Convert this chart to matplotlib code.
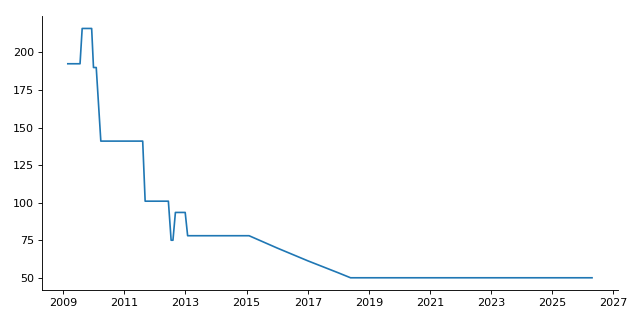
import numpy as np
import matplotlib
matplotlib.use('Agg')
import matplotlib.pyplot as plt

# decimal years and values
years = [2009.15, 2009.55, 2009.62, 2009.93, 2009.99, 2010.08, 2010.23,
         2011.60, 2011.68, 2012.44, 2012.53, 2012.59, 2012.67, 2012.99,
         2013.07, 2015.08, 2016.0, 2017.0, 2018.0, 2018.40, 2026.30]
values = [192.5, 192.5, 216, 216, 190, 190, 141,
          141, 101, 101, 75, 75, 93.5, 93.5,
          78, 78, 69.8, 61.3, 53.3, 50, 50]

xticks = list(range(2009, 2028, 2))


def plot_data():
    fig, ax = plt.subplots(figsize=(8, 4), dpi=80)
    ax.plot(years, values, '-', color='tab:blue')
    ax.set_xticks(xticks)
    ax.set_yticks([50, 75, 100, 125, 150, 175, 200])
    ax.spines['top'].set_visible(False)
    ax.spines['right'].set_visible(False)
    fig.subplots_adjust(left=0.065, right=0.966, top=0.95, bottom=0.093)
    fig.savefig('out.png')


if __name__ == '__main__':
    plot_data()
